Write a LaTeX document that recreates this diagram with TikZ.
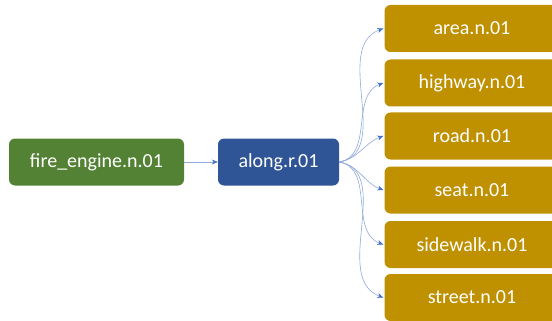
\documentclass[tikz,border=0pt]{standalone}
\usepackage{fontspec}
\setmainfont{Carlito}
\usetikzlibrary{arrows.meta}

\definecolor{synGreen}{HTML}{548235}
\definecolor{synBlue}{HTML}{2F5597}
\definecolor{synGold}{HTML}{BF9000}
\definecolor{linkLine}{HTML}{8FAADC}
\definecolor{linkTip}{HTML}{4472C4}

\begin{document}
\begin{tikzpicture}[x=1pt,y=-1pt,line cap=round,line join=round,
  synset/.style={rounded corners=6pt,text=white,inner sep=0pt,minimum height=47pt,
    font=\fontsize{20}{24}\selectfont},
  link/.style={draw=linkLine,line width=0.6pt,-{Stealth[length=6pt,width=5pt,color=linkTip]}}]
\useasboundingbox (0,0) rectangle (552,321);
\clip (0,0) rectangle (552,321);
\node[synset,fill=synGreen,minimum width=175pt] (fire) at (96.5,162) {fire\_engine.n.01};
\node[synset,fill=synBlue,minimum width=121pt] (along) at (278.5,162) {along.r.01};
\node[synset,fill=synGold,minimum width=175pt] (area) at (472,28.5) {area.n.01};
\node[synset,fill=synGold,minimum width=175pt] (highway) at (472,83) {highway.n.01};
\node[synset,fill=synGold,minimum width=175pt] (road) at (472,136) {road.n.01};
\node[synset,fill=synGold,minimum width=175pt] (seat) at (472,190) {seat.n.01};
\node[synset,fill=synGold,minimum width=175pt] (sidewalk) at (472,244.5) {sidewalk.n.01};
\node[synset,fill=synGold,minimum width=175pt] (street) at (472,297.5) {street.n.01};
\draw[link] (fire) -- (along);
\draw[link] (along.east) to[out=10,in=200] ([xshift=-1pt]area.west);
\draw[link] (along.east) to[out=10,in=200] ([xshift=-1pt]highway.west);
\draw[link] (along.east) to[out=10,in=200] ([xshift=-1pt]road.west);
\draw[link] (along.east) to[out=-10,in=160] ([xshift=-1pt]seat.west);
\draw[link] (along.east) to[out=-10,in=160] ([xshift=-1pt]sidewalk.west);
\draw[link] (along.east) to[out=-10,in=160] ([xshift=-1pt]street.west);
\end{tikzpicture}
\end{document}
